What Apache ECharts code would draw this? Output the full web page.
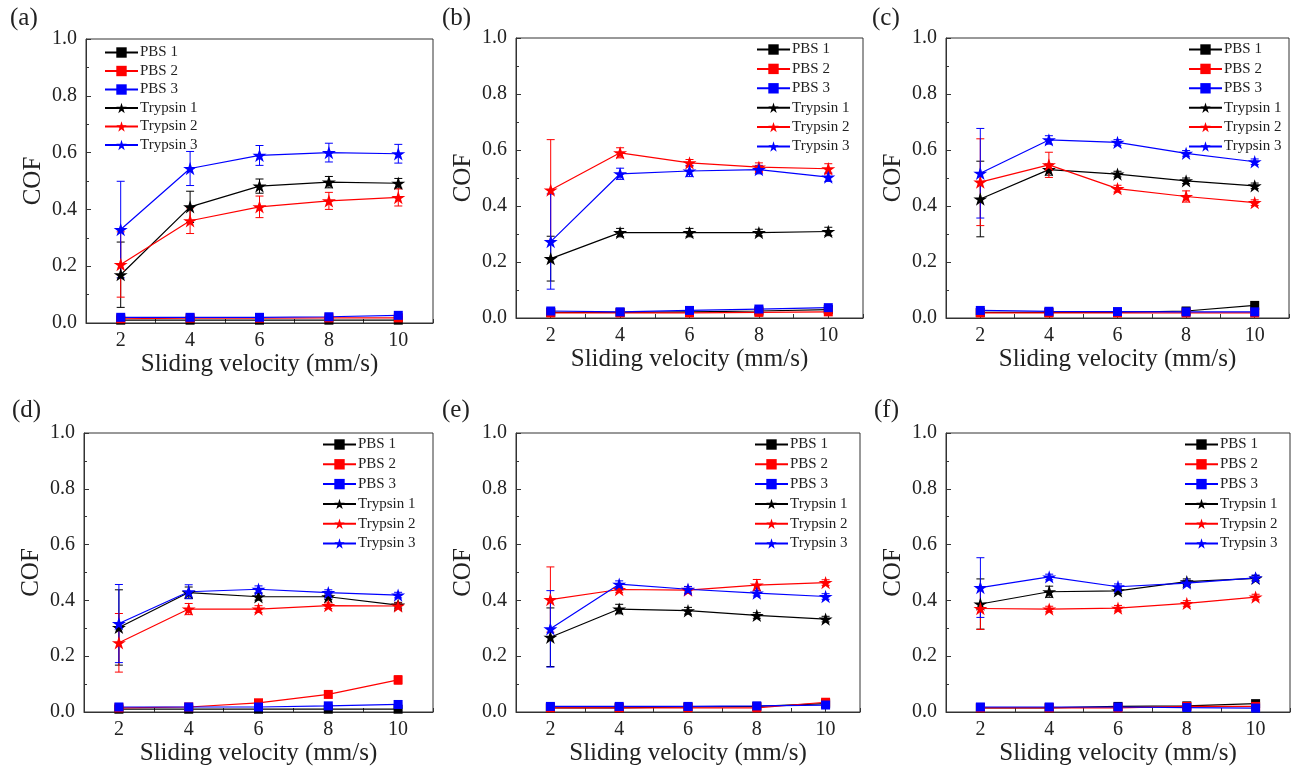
<!DOCTYPE html>
<html lang="en">
<head>
	<meta charset="UTF-8">
	<title>COF vs sliding velocity</title>
</head>
<style>
	body{ margin: 0; background: #fff; }
	#main{
		width: 1301px;
		height: 775px;
	}
</style>
<body>
	<div id="main"></div>
	<script src="https://cdn.jsdelivr.net/npm/echarts@6/dist/echarts.min.js"></script>
	<script>
	// sliding velocity (mm/s)
	var velocity = [2, 4, 6, 8, 10];
	var seriesNames = ['PBS 1', 'PBS 2', 'PBS 3', 'Trypsin 1', 'Trypsin 2', 'Trypsin 3'];
	var seriesColors = ['#000000', '#ff0000', '#0000ff', '#000000', '#ff0000', '#0000ff'];
	var panelLabels = ['(a)', '(b)', '(c)', '(d)', '(e)', '(f)'];

	// COF per panel, rows in the order of seriesNames
	var cofA = [
		[0.010, 0.010, 0.010, 0.010, 0.010],
		[0.015, 0.017, 0.017, 0.018, 0.018],
		[0.020, 0.020, 0.020, 0.022, 0.027],
		[0.170, 0.409, 0.482, 0.496, 0.492],
		[0.206, 0.360, 0.409, 0.430, 0.442],
		[0.329, 0.544, 0.590, 0.600, 0.596]
	];
	var cofB = [
		[0.020, 0.020, 0.022, 0.025, 0.030],
		[0.018, 0.018, 0.018, 0.020, 0.022],
		[0.025, 0.022, 0.027, 0.032, 0.037],
		[0.212, 0.305, 0.305, 0.305, 0.309],
		[0.457, 0.590, 0.554, 0.539, 0.533],
		[0.273, 0.515, 0.525, 0.530, 0.503]
	];
	var cofC = [
		[0.020, 0.020, 0.020, 0.025, 0.045],
		[0.018, 0.018, 0.018, 0.018, 0.018],
		[0.027, 0.024, 0.023, 0.022, 0.022],
		[0.425, 0.530, 0.514, 0.490, 0.472],
		[0.485, 0.547, 0.462, 0.434, 0.412],
		[0.517, 0.636, 0.627, 0.588, 0.558]
	];
	var cofD = [
		[0.010, 0.010, 0.010, 0.010, 0.010],
		[0.015, 0.018, 0.033, 0.063, 0.115],
		[0.018, 0.018, 0.018, 0.022, 0.027],
		[0.303, 0.428, 0.413, 0.413, 0.383],
		[0.248, 0.369, 0.369, 0.381, 0.380],
		[0.317, 0.431, 0.440, 0.428, 0.419]
	];
	var cofE = [
		[0.015, 0.015, 0.018, 0.020, 0.030],
		[0.015, 0.015, 0.015, 0.015, 0.035],
		[0.020, 0.020, 0.020, 0.022, 0.025],
		[0.268, 0.369, 0.363, 0.346, 0.333],
		[0.403, 0.439, 0.437, 0.455, 0.464],
		[0.298, 0.458, 0.440, 0.426, 0.414]
	];
	var cofF = [
		[0.015, 0.015, 0.020, 0.022, 0.030],
		[0.015, 0.015, 0.015, 0.020, 0.020],
		[0.018, 0.018, 0.018, 0.016, 0.014],
		[0.387, 0.431, 0.434, 0.467, 0.479],
		[0.371, 0.369, 0.372, 0.389, 0.412],
		[0.446, 0.484, 0.449, 0.462, 0.481]
	];

	// error bar half-widths, same layout
	var errA = [
		[0.004, 0.004, 0.004, 0.004, 0.004],
		[0.004, 0.004, 0.004, 0.004, 0.004],
		[0.004, 0.004, 0.004, 0.004, 0.006],
		[0.115, 0.055, 0.025, 0.020, 0.017],
		[0.115, 0.045, 0.038, 0.030, 0.030],
		[0.170, 0.060, 0.035, 0.033, 0.033]
	];
	var errB = [
		[0.004, 0.004, 0.004, 0.004, 0.004],
		[0.004, 0.004, 0.004, 0.004, 0.004],
		[0.004, 0.004, 0.004, 0.005, 0.006],
		[0.080, 0.015, 0.015, 0.012, 0.015],
		[0.180, 0.018, 0.012, 0.015, 0.018],
		[0.170, 0.020, 0.020, 0.015, 0.015]
	];
	var errC = [
		[0.004, 0.004, 0.004, 0.004, 0.005],
		[0.004, 0.004, 0.004, 0.004, 0.004],
		[0.004, 0.004, 0.004, 0.004, 0.004],
		[0.135, 0.020, 0.010, 0.010, 0.010],
		[0.155, 0.045, 0.012, 0.020, 0.010],
		[0.160, 0.015, 0.010, 0.010, 0.010]
	];
	var errD = [
		[0.004, 0.004, 0.004, 0.004, 0.004],
		[0.005, 0.005, 0.005, 0.008, 0.015],
		[0.004, 0.004, 0.004, 0.004, 0.005],
		[0.135, 0.020, 0.012, 0.010, 0.010],
		[0.105, 0.020, 0.012, 0.010, 0.010],
		[0.140, 0.025, 0.012, 0.010, 0.010]
	];
	var errE = [
		[0.004, 0.004, 0.004, 0.004, 0.004],
		[0.004, 0.004, 0.004, 0.004, 0.006],
		[0.004, 0.004, 0.004, 0.004, 0.004],
		[0.105, 0.017, 0.012, 0.010, 0.010],
		[0.117, 0.010, 0.012, 0.020, 0.010],
		[0.137, 0.012, 0.010, 0.010, 0.010]
	];
	var errF = [
		[0.004, 0.004, 0.004, 0.004, 0.004],
		[0.004, 0.004, 0.004, 0.004, 0.004],
		[0.004, 0.004, 0.004, 0.004, 0.004],
		[0.090, 0.020, 0.010, 0.010, 0.010],
		[0.075, 0.010, 0.010, 0.010, 0.010],
		[0.107, 0.010, 0.010, 0.010, 0.010]
	];

	var panelCof = [cofA, cofB, cofC, cofD, cofE, cofF];
	var panelErr = [errA, errB, errC, errD, errE, errF];

	// plot boxes in page pixels
	var boxes = [
		{left: 86,  top: 39,  width: 347, height: 284},
		{left: 516, top: 38,  width: 347, height: 280},
		{left: 946, top: 38,  width: 343, height: 280},
		{left: 84,  top: 433, width: 349, height: 279},
		{left: 516, top: 433, width: 344, height: 279},
		{left: 946, top: 433, width: 344, height: 279}
	];
	var legendPos = [
		{left: 104, top: 45, gap: 3.5},
		{left: 756, top: 42, gap: 4.4},
		{left: 1188, top: 42, gap: 4.4},
		{left: 322, top: 437, gap: 4.8},
		{left: 754, top: 437, gap: 4.8},
		{left: 1184, top: 437, gap: 4.8}
	];
	var labelPos = [
		{left: 10, top: 6}, {left: 442, top: 6}, {left: 872, top: 6},
		{left: 12, top: 398}, {left: 442, top: 398}, {left: 874, top: 398}
	];

	var FONT = '"Liberation Serif", "Times New Roman", serif';
	var STAR = 'path://M50,0 L61.2,34.5 L97.6,34.5 L68.2,55.9 L79.4,90.5 L50,69.1 L20.6,90.5 L31.8,55.9 L2.4,34.5 L38.8,34.5 Z';

	var myChart = echarts.init(document.getElementById('main'), null, {renderer: 'canvas'});

	var grids = [], xAxes = [], yAxes = [], series = [], legends = [], titles = [];

	function errorSeries(gi, vals, errs, color) {
		return {
			type: 'custom',
			xAxisIndex: gi,
			yAxisIndex: gi,
			silent: true,
			z: 1,
			data: velocity.map(function (x, i) {
				return [x, vals[i] - errs[i], vals[i] + errs[i]];
			}),
			renderItem: function (params, api) {
				var lo = api.coord([api.value(0), api.value(1)]);
				var hi = api.coord([api.value(0), api.value(2)]);
				var hw = 4;
				var st = {stroke: color, lineWidth: 1};
				return {
					type: 'group',
					children: [
						{type: 'line', shape: {x1: lo[0], y1: lo[1], x2: hi[0], y2: hi[1]}, style: st},
						{type: 'line', shape: {x1: lo[0] - hw, y1: lo[1], x2: lo[0] + hw, y2: lo[1]}, style: st},
						{type: 'line', shape: {x1: hi[0] - hw, y1: hi[1], x2: hi[0] + hw, y2: hi[1]}, style: st}
					]
				};
			}
		};
	}

	for (var g = 0; g < 6; g++) {
		grids.push({
			left: boxes[g].left, top: boxes[g].top,
			width: boxes[g].width, height: boxes[g].height,
			show: true, borderColor: '#333', borderWidth: 1,
			backgroundColor: 'transparent'
		});
		xAxes.push({
			gridIndex: g,
			type: 'value',
			min: 1, max: 11, interval: 1,
			name: 'Sliding velocity (mm/s)',
			nameLocation: 'middle',
			nameGap: 27,
			nameTextStyle: {fontFamily: FONT, fontSize: 25, color: '#222'},
			axisLine: {show: true, onZero: false, lineStyle: {color: '#333', width: 1}},
			axisTick: {show: true, inside: true, length: 4, lineStyle: {color: '#333'}},
			axisLabel: {
				fontFamily: FONT, fontSize: 20, color: '#222', margin: 8,
				formatter: function (v) { return v % 2 === 0 ? String(v) : ''; }
			},
			splitLine: {show: false}
		});
		yAxes.push({
			gridIndex: g,
			type: 'value',
			min: 0, max: 1, interval: 0.2,
			name: 'COF',
			nameLocation: 'middle',
			nameGap: 40,
			nameTextStyle: {fontFamily: FONT, fontSize: 25, color: '#222'},
			axisLine: {show: true, lineStyle: {color: '#333', width: 1}},
			axisTick: {show: true, inside: true, length: 5, lineStyle: {color: '#333'}},
			minorTick: {show: true, splitNumber: 2, length: 3, lineStyle: {color: '#333'}},
			axisLabel: {
				fontFamily: FONT, fontSize: 20, color: '#222', margin: 9,
				formatter: function (v) { return v.toFixed(1); }
			},
			splitLine: {show: false}
		});

		var cof = panelCof[g], err = panelErr[g];
		for (var s = 0; s < 6; s++) {
			series.push(errorSeries(g, cof[s], err[s], seriesColors[s]));
		}
		for (var k = 0; k < 6; k++) {
			var isStar = k >= 3;
			series.push({
				name: seriesNames[k],
				type: 'line',
				xAxisIndex: g,
				yAxisIndex: g,
				z: 2,
				data: velocity.map(function (x, i) { return [x, cof[k][i]]; }),
				symbol: isStar ? STAR : 'rect',
				symbolKeepAspect: true,
				symbolSize: isStar ? 14 : 9,
				lineStyle: {color: seriesColors[k], width: 1.2},
				itemStyle: {color: seriesColors[k]},
				emphasis: {disabled: true},
				animation: false
			});
		}

		legends.push({
			orient: 'vertical',
			left: legendPos[g].left,
			top: legendPos[g].top,
			data: seriesNames,
			itemWidth: 33,
			itemHeight: 13,
			itemGap: legendPos[g].gap,
			padding: 0,
			selectedMode: false,
			textStyle: {fontFamily: FONT, fontSize: 15, color: '#222', padding: [0, 0, 0, -3]}
		});
		titles.push({
			text: panelLabels[g],
			left: labelPos[g].left,
			top: labelPos[g].top,
			padding: 0,
			textStyle: {fontFamily: FONT, fontSize: 25, fontWeight: 'normal', color: '#222'}
		});
	}

	var option = {
		backgroundColor: '#fff',
		animation: false,
		title: titles,
		legend: legends,
		grid: grids,
		xAxis: xAxes,
		yAxis: yAxes,
		series: series
	};
	myChart.setOption(option);
	</script>
</body>
</html>
